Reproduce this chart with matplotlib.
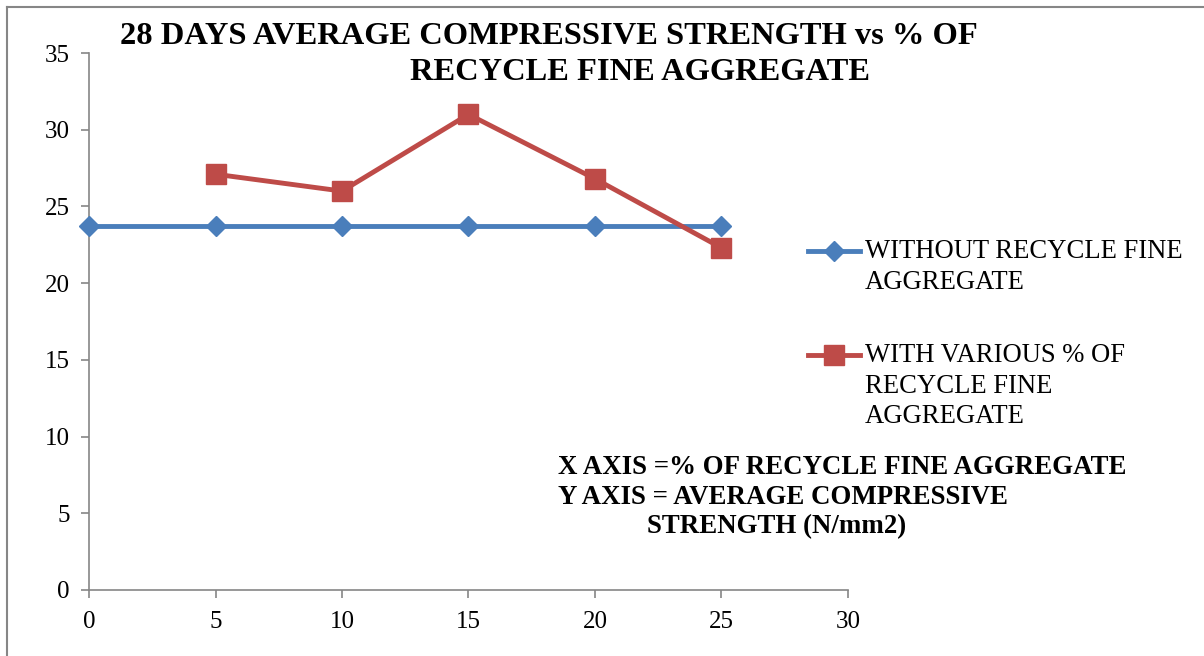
import matplotlib.pyplot as plt
from matplotlib.lines import Line2D

plt.rcParams['font.family'] = ['Liberation Serif', 'DejaVu Serif']

# data
pct_without = [0, 5, 10, 15, 20, 25]
strength_without = [23.7, 23.7, 23.7, 23.7, 23.7, 23.7]
pct_with = [5, 10, 15, 20, 25]
strength_with = [27.1, 26.0, 31.0, 26.8, 22.3]

label_without = 'WITHOUT RECYCLE FINE\nAGGREGATE'
label_with = 'WITH VARIOUS % OF\nRECYCLE FINE\nAGGREGATE'

blue = '#4A7EBB'
red = '#BE4B48'
gray = '#868686'

W, H = 1204, 656
fig = plt.figure(figsize=(W / 100, H / 100), dpi=100)
ax = fig.add_axes([89 / W, 1 - 590 / H, (848 - 89) / W, (590 - 53) / H])

ax.plot(pct_without, strength_without, color=blue, linewidth=3.5,
        marker='D', markersize=10, zorder=3, clip_on=False)
ax.plot(pct_with, strength_with, color=red, linewidth=3.5,
        marker='s', markersize=14, zorder=4, clip_on=False)

ax.set_xlim(0, 30)
ax.set_ylim(0, 35)
ax.set_xticks(range(0, 31, 5))
ax.set_yticks(range(0, 36, 5))
ax.spines['top'].set_visible(False)
ax.spines['right'].set_visible(False)
for s in ['left', 'bottom']:
    ax.spines[s].set_color(gray)
    ax.spines[s].set_linewidth(1.2)
ax.tick_params(axis='both', colors=gray, labelcolor='black', labelsize=18,
               length=6, width=1.2, direction='out')
ax.tick_params(axis='y', pad=8)
ax.tick_params(axis='x', pad=9)

# title (two lines, placed as in the reference)
fig.text(549 / W, 1 - 37 / H, '28 DAYS AVERAGE COMPRESSIVE STRENGTH vs % OF',
         ha='center', va='center', fontsize=23.4, fontweight='bold')
fig.text(640 / W, 1 - 73 / H, 'RECYCLE FINE AGGREGATE',
         ha='center', va='center', fontsize=23.4, fontweight='bold')

# legend, drawn by hand so the key sits on the first text line
legend_items = [(label_without, blue, 'D', 10, 251),
                (label_with, red, 's', 14, 355)]
for label, color, mk, ms, ypix in legend_items:
    yk = 1 - ypix / H
    fig.add_artist(Line2D([808 / W, 834 / W, 860 / W], [yk, yk, yk],
                          transform=fig.transFigure, color=color, linewidth=3.5,
                          marker=mk, markersize=ms, markevery=[1]))
    fig.text(865 / W, 1 - (ypix - 12) / H, label, ha='left', va='top',
             fontsize=19.2, linespacing=1.3)

# axis note
fig.text(558 / W, 1 - 467 / H, 'X AXIS =% OF RECYCLE FINE AGGREGATE',
         ha='left', va='center', fontsize=19.4, fontweight='bold')
fig.text(558 / W, 1 - 497 / H, 'Y AXIS = AVERAGE COMPRESSIVE',
         ha='left', va='center', fontsize=19.4, fontweight='bold')
fig.text(647 / W, 1 - 527 / H, 'STRENGTH (N/mm2)',
         ha='left', va='center', fontsize=19.4, fontweight='bold')

# outer chart border (top and left visible, rest cut off)
fig.add_artist(Line2D([7 / W, 1.0], [1 - 7 / H, 1 - 7 / H],
                      transform=fig.transFigure, color=gray, linewidth=1.5))
fig.add_artist(Line2D([7 / W, 7 / W], [0.0, 1 - 7 / H],
                      transform=fig.transFigure, color=gray, linewidth=1.5))

fig.savefig('out.png', dpi=100)
